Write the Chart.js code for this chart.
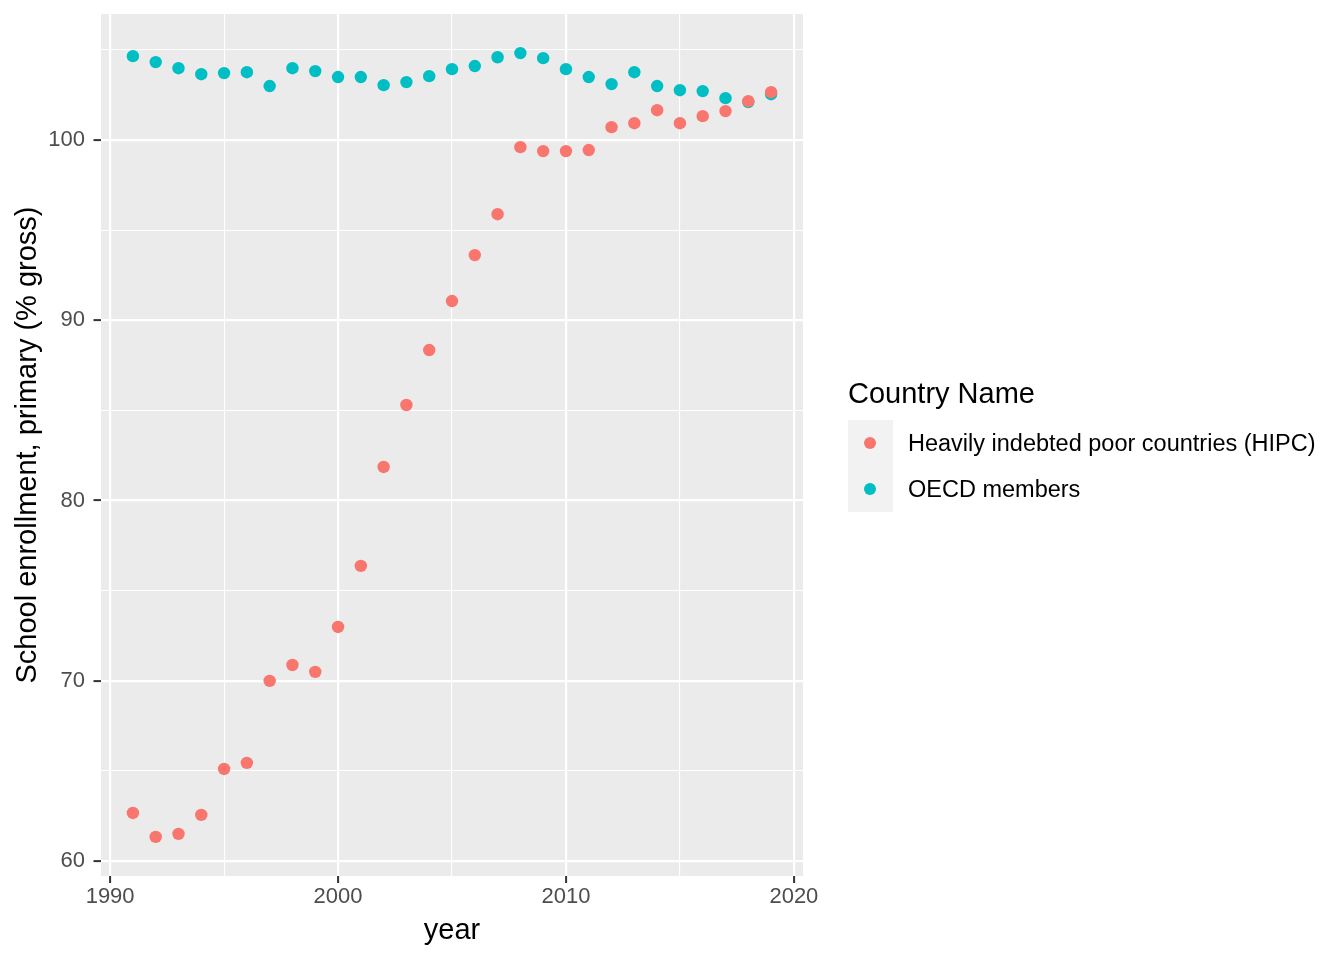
<!DOCTYPE html>
<html>
<head>
<meta charset="utf-8">
<script src="https://cdn.jsdelivr.net/npm/chart.js@4.4.1/dist/chart.umd.min.js"></script>
<style>
  html, body { margin: 0; padding: 0; background: #ffffff; }
  #wrap { position: relative; width: 1344px; height: 960px; font-family: "Liberation Sans", Arial, sans-serif; }
  #chart { position: absolute; left: 0; top: 0; }
  #legend { position: absolute; left: 848px; top: 376px; }
  #legend .title { font-size: 29px; color: #000; line-height: 34px; margin-bottom: 10px; white-space: nowrap; }
  #legend .row { display: flex; align-items: center; height: 46px; }
  #legend .key { width: 45px; height: 46px; background: #f2f2f2; position: relative; }
  #legend .dot { position: absolute; left: 16px; top: 17px; width: 12px; height: 12px; border-radius: 50%; }
  #legend .label { font-size: 23.5px; color: #000; margin-left: 15px; white-space: nowrap; }
</style>
</head>
<body>
<div id="wrap">
  <canvas id="chart" width="1344" height="960"></canvas>
  <div id="legend">
    <div class="title">Country Name</div>
    <div class="row"><div class="key"><div class="dot" style="background:#F8766D"></div></div><div class="label">Heavily indebted poor countries (HIPC)</div></div>
    <div class="row"><div class="key"><div class="dot" style="background:#00BFC4"></div></div><div class="label">OECD members</div></div>
  </div>
</div>
<script>
  // Data
  var years = [1991, 1992, 1993, 1994, 1995, 1996, 1997, 1998, 1999, 2000,
    2001, 2002, 2003, 2004, 2005, 2006, 2007, 2008, 2009, 2010,
    2011, 2012, 2013, 2014, 2015, 2016, 2017, 2018, 2019];
  var hipc = [62.66, 61.33, 61.50, 62.55, 65.10, 65.44, 69.99, 70.87, 70.49, 72.98,
    76.37, 81.86, 85.30, 88.35, 91.07, 93.62, 95.89, 99.61, 99.39, 99.39,
    99.45, 100.72, 100.94, 101.66, 100.94, 101.33, 101.61, 102.16, 102.66];
  var oecd = [104.66, 104.33, 103.99, 103.66, 103.72, 103.77, 103.00, 103.99, 103.83, 103.50,
    103.50, 103.05, 103.22, 103.55, 103.94, 104.11, 104.60, 104.83, 104.55, 103.94,
    103.50, 103.11, 103.77, 103.00, 102.77, 102.72, 102.33, 102.11, 102.55];
  var xTicks = [1990, 1995, 2000, 2005, 2010, 2015, 2020];
  var yTicks = [60, 65, 70, 75, 80, 85, 90, 95, 100, 105];

  function toPoints(vals) {
    return years.map(function (y, i) { return { x: y, y: vals[i] }; });
  }

  // grey panel behind the plot
  var panelBg = {
    id: "panelBg",
    beforeDraw: function (chart) {
      var a = chart.chartArea, ctx = chart.ctx;
      ctx.save();
      ctx.fillStyle = "#ebebeb";
      ctx.fillRect(a.left, a.top, a.right - a.left, a.bottom - a.top);
      ctx.restore();
    }
  };

  function isMajor(v, step) { return Math.abs(v % step) < 1e-6; }

  var tickFont = { family: "Liberation Sans", size: 22 };
  var titleFont = { family: "Liberation Sans", size: 29 };

  new Chart(document.getElementById("chart").getContext("2d"), {
    type: "scatter",
    data: {
      datasets: [
        { label: "Heavily indebted poor countries (HIPC)", data: toPoints(hipc),
          backgroundColor: "#F8766D", borderWidth: 0, pointRadius: 6.2, pointHoverRadius: 6.2 },
        { label: "OECD members", data: toPoints(oecd),
          backgroundColor: "#00BFC4", borderWidth: 0, pointRadius: 6.2, pointHoverRadius: 6.2 }
      ]
    },
    options: {
      responsive: false,
      animation: false,
      layout: { padding: { left: 0, top: 14, right: 541, bottom: 0 } },
      plugins: { legend: { display: false }, tooltip: { enabled: false } },
      scales: {
        x: {
          type: "linear",
          min: 1989.6,
          max: 2020.4,
          afterBuildTicks: function (s) { s.ticks = xTicks.map(function (v) { return { value: v }; }); },
          afterFit: function (s) { s.height = 84; s.paddingLeft = 0; s.paddingRight = 0; },
          border: { display: false },
          grid: {
            color: "#ffffff",
            lineWidth: function (c) { return isMajor(c.tick.value, 10) ? 2.2 : 1.1; },
            tickColor: function (c) { return isMajor(c.tick.value, 10) ? "#333333" : "rgba(0,0,0,0)"; },
            tickLength: 7,
            tickWidth: 2
          },
          ticks: {
            autoSkip: false,
            maxRotation: 0,
            padding: 1,
            color: "#4d4d4d",
            font: tickFont,
            callback: function (v) { return isMajor(v, 10) ? String(v) : ""; }
          },
          title: { display: true, text: "year", color: "#000000",
            font: titleFont, padding: { top: 0, bottom: 12 } }
        },
        y: {
          type: "linear",
          min: 59.16,
          max: 107.0,
          afterBuildTicks: function (s) { s.ticks = yTicks.map(function (v) { return { value: v }; }); },
          afterFit: function (s) { s.width = 101; s.paddingTop = 0; s.paddingBottom = 0; },
          border: { display: false },
          grid: {
            color: "#ffffff",
            lineWidth: function (c) { return isMajor(c.tick.value, 10) ? 2.2 : 1.1; },
            tickColor: function (c) { return isMajor(c.tick.value, 10) ? "#333333" : "rgba(0,0,0,0)"; },
            tickLength: 7.5,
            tickWidth: 2
          },
          ticks: {
            autoSkip: false,
            padding: 8.5,
            color: "#4d4d4d",
            font: tickFont,
            callback: function (v) { return isMajor(v, 10) ? String(v) : ""; }
          },
          title: { display: true, text: "School enrollment, primary (% gross)", color: "#000000",
            font: titleFont, padding: { top: 11, bottom: 0 } }
        }
      }
    },
    plugins: [panelBg]
  });
</script>
</body>
</html>
